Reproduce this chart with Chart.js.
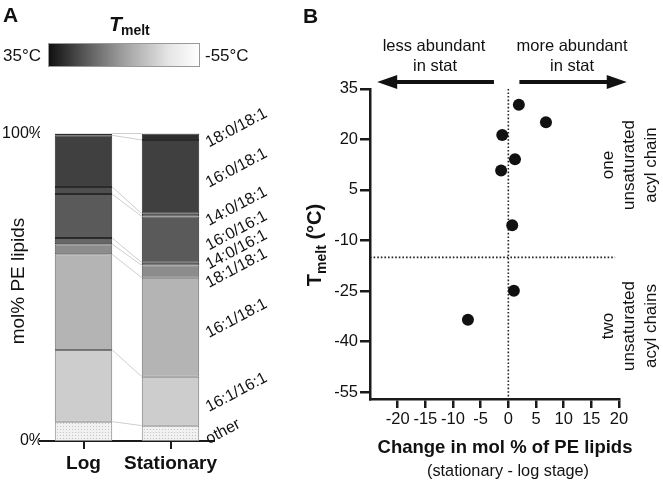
<!DOCTYPE html>
<html><head><meta charset="utf-8">
<script src="https://cdn.jsdelivr.net/npm/chart.js@4.4.0/dist/chart.umd.min.js"></script>
<style>
html,body{margin:0;padding:0;background:#fff;}
#wrap{position:relative;width:663px;height:482px;overflow:hidden;background:#fff;}
#ca{position:absolute;left:0;top:0;}
#cb{position:absolute;left:280px;top:0;}
</style></head><body>
<div id="wrap">
<canvas id="ca" width="280" height="482"></canvas>
<canvas id="cb" width="383" height="482"></canvas>
</div>
<script>
// ---------- DATA (panel A) ----------
const stages = ['Log', 'Stationary'];
const species = ['other', '16:1/16:1', '16:1/18:1', '18:1/18:1', '14:0/16:1', '16:0/16:1', '14:0/18:1', '16:0/18:1', '18:0/18:1'];
const logPercent = [6.3, 23.3, 31.1, 3.3, 2.0, 14.3, 2.3, 16.8, 0.6];
const stationaryPercent = [5.0, 15.9, 32.2, 4.0, 0.9, 15.0, 0.9, 24.0, 2.1];
const percentTicks = [0, 100];
const tempRangeLabels = ['35°C', '-55°C'];

// ---------- DATA (panel B) ----------
const changeMolPercent = [1.9, 6.8, -1.1, 1.2, -1.3, 0.7, 1.0, -7.3];
const meltTemperature = [30.3, 25.1, 21.3, 14.1, 10.8, -5.5, -24.9, -33.5];
const changeTicks = [-20, -15, -10, -5, 0, 5, 10, 15, 20];
const meltTicks = [35, 20, 5, -10, -25, -40, -55];
const zeroChange = 0;
const chainSplitTemp = -15;

// ---------- STYLE ----------
const F = '"Liberation Sans", Arial, Helvetica, sans-serif';
Chart.defaults.font.family = F;
Chart.defaults.color = '#111';
const fillColors = ['pattern', '#cdcdcd', '#b4b4b4', '#8c8c8c', '#666666', '#5a5a5a', '#4e4e4e', '#404040', '#2e2e2e'];
const edgeColors = ['#8a8a8a', '#7a7a7a', '#707070', '#555555', '#2a2a2a', '#2a2a2a', '#2a2a2a', '#2a2a2a', '#2a2a2a'];

function dotPattern() {
  const c = document.createElement('canvas'); c.width = 3; c.height = 3;
  const g = c.getContext('2d');
  g.fillStyle = '#f1f1f1'; g.fillRect(0, 0, 3, 3);
  g.fillStyle = '#c4c4c4'; g.fillRect(0, 0, 1, 1);
  return g.createPattern(c, 'repeat');
}

const annotA = {
  id: 'annotA',
  afterDatasetsDraw(chart) {
    const ctx = chart.ctx;
    ctx.save();
    ctx.strokeStyle = '#c2c2c2';
    ctx.lineWidth = 0.8;
    species.forEach((s, i) => {
      const meta = chart.getDatasetMeta(i);
      const a = meta.data[0], b = meta.data[1];
      ctx.beginPath();
      ctx.moveTo(a.x + a.width / 2, a.y);
      ctx.lineTo(b.x - b.width / 2, b.y);
      ctx.stroke();
    });
    ctx.restore();
  },
  afterDraw(chart) {
    const ctx = chart.ctx;
    ctx.save();
    ctx.fillStyle = '#111';
    ctx.font = 'bold 21px ' + F;
    ctx.textBaseline = 'alphabetic';
    ctx.textAlign = 'left';
    ctx.fillText('A', 3, 22);
    ctx.font = 'italic bold 21px ' + F;
    ctx.fillText('T', 109, 31);
    ctx.font = 'bold 14px ' + F;
    ctx.fillText('melt', 121, 35);
    const g = ctx.createLinearGradient(48, 0, 200, 0);
    g.addColorStop(0, '#0e0e0e');
    g.addColorStop(0.25, '#5a5a5a');
    g.addColorStop(0.5, '#a0a0a0');
    g.addColorStop(0.8, '#e6e6e6');
    g.addColorStop(1, '#ffffff');
    ctx.fillStyle = g;
    ctx.fillRect(48, 43, 152, 24);
    ctx.strokeStyle = '#9a9a9a'; ctx.lineWidth = 1;
    ctx.strokeRect(48.5, 43.5, 151, 23);
    ctx.fillStyle = '#111';
    ctx.font = '17px ' + F;
    ctx.textBaseline = 'middle';
    ctx.fillText(tempRangeLabels[0], 3, 56);
    ctx.fillText(tempRangeLabels[1], 205, 56);
    ctx.save();
    ctx.translate(19, 281);
    ctx.rotate(-Math.PI / 2);
    ctx.textAlign = 'center';
    ctx.font = '19px ' + F;
    ctx.fillText('mol% PE lipids', 0, 0);
    ctx.restore();
    const ys = species.map((s, i) => {
      const e = chart.getDatasetMeta(i).data[1];
      return (e.y + e.base) / 2;
    });
    const order = species.map((_, i) => i).reverse();
    for (let it = 0; it < 60; it++) {
      for (let k = 1; k < order.length; k++) {
        const a = order[k - 1], b = order[k];
        const gap = ys[b] - ys[a];
        if (gap < 18.5) { const d = (18.5 - gap) / 2; ys[a] -= d; ys[b] += d; }
      }
    }
    ctx.font = '16px ' + F;
    ctx.textAlign = 'left';
    ctx.textBaseline = 'middle';
    species.forEach((s, i) => {
      ctx.save();
      ctx.translate(207, ys[i] + 7);
      ctx.rotate(-28 * Math.PI / 180);
      ctx.fillText(s, 0, 0);
      ctx.restore();
    });
    ctx.restore();
  }
};

new Chart(document.getElementById('ca'), {
  type: 'bar',
  data: {
    labels: stages,
    datasets: species.map((s, i) => ({
      label: s,
      data: [logPercent[i], stationaryPercent[i]],
      backgroundColor: fillColors[i] === 'pattern' ? dotPattern() : fillColors[i],
      borderColor: edgeColors[i],
      borderWidth: 1,
      borderSkipped: false,
      barPercentage: 0.66,
      categoryPercentage: 1,
      stack: 'pe'
    }))
  },
  options: {
    responsive: false, animation: false, devicePixelRatio: 1,
    layout: { padding: { left: 0, right: 66, top: 133.5, bottom: 0 } },
    plugins: { legend: { display: false }, tooltip: { enabled: false } },
    scales: {
      x: {
        stacked: true,
        grid: { display: true, offset: false, drawOnChartArea: false, drawTicks: true, tickLength: 8, color: '#1a1a1a', lineWidth: 2 },
        border: { display: true, color: '#1a1a1a', width: 2 },
        ticks: { font: { family: F, size: 19, weight: 'bold' }, color: '#111', padding: 3, maxRotation: 0, minRotation: 0, autoSkip: false },
        afterFit: (s) => { s.height = 41; }
      },
      y: {
        stacked: true, min: 0, max: 100,
        grid: { display: false, drawTicks: false },
        border: { display: false },
        afterBuildTicks: (s) => { s.ticks = percentTicks.map(v => ({ value: v })); },
        ticks: { callback: v => v + '%', font: { family: F, size: 16 }, color: '#111', padding: -3 },
        afterFit: (s) => { s.width = 40; }
      }
    }
  },
  plugins: [annotA]
});

// ---------- PANEL B ----------
function arrow(ctx, xTail, xTip, y) {
  const dir = Math.sign(xTip - xTail);
  const headLen = 20, headHalf = 7, shaft = 4;
  ctx.beginPath();
  ctx.moveTo(xTail, y - shaft / 2);
  ctx.lineTo(xTip - dir * headLen, y - shaft / 2);
  ctx.lineTo(xTip - dir * headLen, y - headHalf);
  ctx.lineTo(xTip, y);
  ctx.lineTo(xTip - dir * headLen, y + headHalf);
  ctx.lineTo(xTip - dir * headLen, y + shaft / 2);
  ctx.lineTo(xTail, y + shaft / 2);
  ctx.closePath();
  ctx.fill();
}

const annotB = {
  id: 'annotB',
  afterDraw(chart) {
    const ctx = chart.ctx;
    const xs = chart.scales.x;
    ctx.save();
    ctx.fillStyle = '#111';
    ctx.font = 'bold 21px ' + F;
    ctx.textAlign = 'left';
    ctx.textBaseline = 'alphabetic';
    ctx.fillText('B', 23, 23);
    arrow(ctx, xs.getPixelForValue(-2.6), xs.getPixelForValue(-23.7), 82);
    arrow(ctx, xs.getPixelForValue(2.0), xs.getPixelForValue(21.4), 82);
    ctx.font = '16.5px ' + F;
    ctx.textAlign = 'center';
    ctx.textBaseline = 'middle';
    ctx.fillText('less abundant', 154, 46);
    ctx.fillText('in stat', 155, 66);
    ctx.fillText('more abundant', 292, 46);
    ctx.fillText('in stat', 292, 66);
    ctx.font = '17px ' + F;
    const groups = [[['one', 'unsaturated', 'acyl chain'], 165], [['two', 'unsaturated', 'acyl chains'], 326]];
    groups.forEach(([lines, cy]) => {
      lines.forEach((t, k) => {
        ctx.save();
        ctx.translate(328 + k * 21.5, cy);
        ctx.rotate(-Math.PI / 2);
        ctx.fillText(t, 0, 0);
        ctx.restore();
      });
    });
    ctx.save();
    ctx.translate(34, 245);
    ctx.rotate(-Math.PI / 2);
    ctx.textAlign = 'left';
    ctx.textBaseline = 'alphabetic';
    const fBig = 'bold 20px ' + F, fSub = 'bold 14px ' + F;
    ctx.font = fBig; const wT = ctx.measureText('T').width;
    const wR = ctx.measureText(' (°C)').width;
    ctx.font = fSub; const wM = ctx.measureText('melt').width;
    let x0 = -(wT + wM + wR) / 2;
    ctx.font = fBig; ctx.fillText('T', x0, 7);
    ctx.font = fSub; ctx.fillText('melt', x0 + wT, 12);
    ctx.font = fBig; ctx.fillText(' (°C)', x0 + wT + wM, 7);
    ctx.restore();
    ctx.textAlign = 'center';
    ctx.textBaseline = 'middle';
    ctx.font = 'bold 18.5px ' + F;
    ctx.fillText('Change in mol % of PE lipids', 225, 448);
    ctx.font = '16.3px ' + F;
    ctx.fillText('(stationary - log stage)', 228, 472);
    ctx.restore();
  }
};

new Chart(document.getElementById('cb'), {
  type: 'scatter',
  data: {
    datasets: [
      {
        type: 'scatter',
        data: changeMolPercent.map((x, i) => ({ x: x, y: meltTemperature[i] })),
        pointRadius: 6, pointBackgroundColor: '#111', pointBorderWidth: 0, order: 0
      },
      {
        type: 'line',
        data: [{ x: zeroChange, y: 35 }, { x: zeroChange, y: -57 }],
        borderColor: '#222', borderWidth: 1.6, borderDash: [1.6, 2], pointRadius: 0, order: 1
      },
      {
        type: 'line',
        data: [{ x: -25, y: chainSplitTemp }, { x: 19.3, y: chainSplitTemp }],
        borderColor: '#222', borderWidth: 1.6, borderDash: [1.6, 2], pointRadius: 0, order: 1
      }
    ]
  },
  options: {
    responsive: false, animation: false, devicePixelRatio: 1,
    layout: { padding: { left: 0, right: 44, top: 88.8, bottom: 0 } },
    plugins: { legend: { display: false }, tooltip: { enabled: false } },
    scales: {
      x: {
        type: 'linear', min: -25, max: 20,
        afterBuildTicks: (s) => { s.ticks = changeTicks.map(v => ({ value: v })); },
        grid: { drawOnChartArea: false, drawTicks: true, tickLength: 9, color: '#1a1a1a', lineWidth: 2.5 },
        border: { display: true, color: '#1a1a1a', width: 2.5 },
        ticks: { font: { family: F, size: 16.5 }, color: '#111', padding: 2, maxRotation: 0, autoSkip: false },
        afterFit: (s) => { s.height = 83; }
      },
      y: {
        type: 'linear', min: -57, max: 35,
        afterBuildTicks: (s) => { s.ticks = meltTicks.map(v => ({ value: v })); },
        grid: { drawOnChartArea: false, drawTicks: true, tickLength: 10, color: '#1a1a1a', lineWidth: 2.5 },
        border: { display: true, color: '#1a1a1a', width: 2.5 },
        ticks: { font: { family: F, size: 16.5 }, color: '#111', padding: 2, autoSkip: false },
        afterFit: (s) => { s.width = 90; }
      }
    }
  },
  plugins: [annotB]
});
</script>
</body></html>
